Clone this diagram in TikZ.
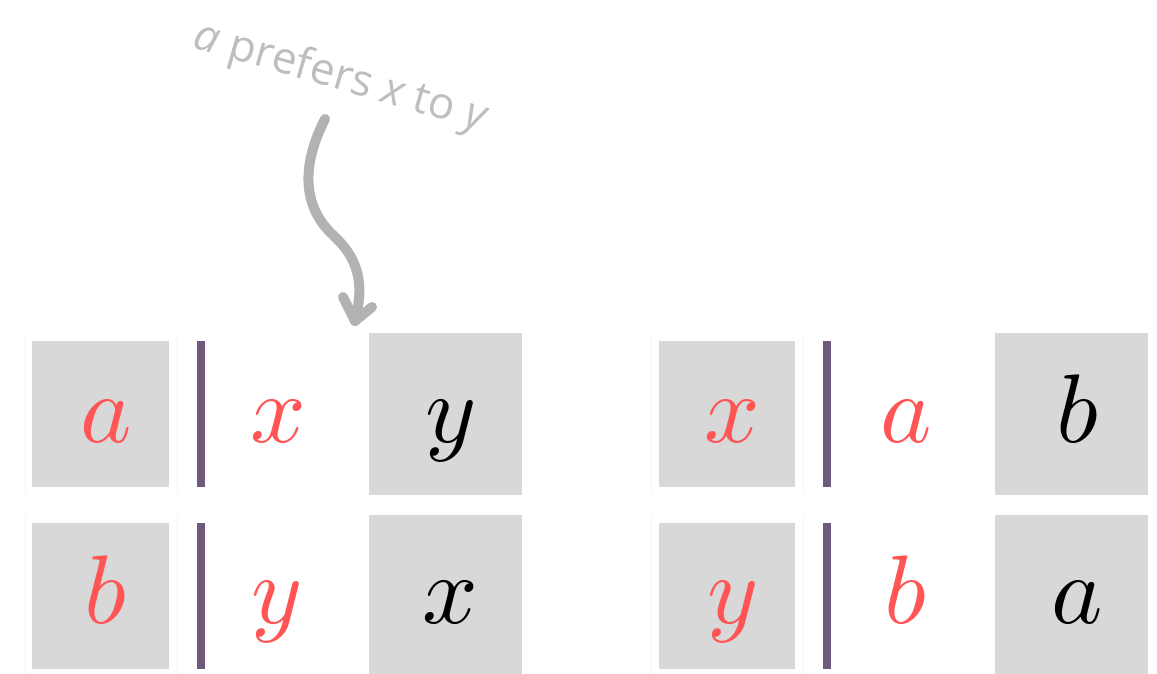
\documentclass[tikz,border=0pt]{standalone}
\usepackage{fontspec}
\newfontfamily\notefont{Open Sans}
\usetikzlibrary{calc}
\definecolor{cellgray}{RGB}{216,216,216}
\definecolor{pickred}{RGB}{255,85,85}
\definecolor{barpurple}{RGB}{110,90,125}
\definecolor{notegray}{RGB}{190,190,190}
\definecolor{arrowgray}{RGB}{178,178,178}
\definecolor{faintline}{RGB}{244,244,244}
\tikzset{
  cell/.style={fill=cellgray, draw=none, inner sep=0pt, outer sep=0pt},
  bar/.style={fill=barpurple, draw=none, inner sep=0pt, outer sep=0pt},
  letter/.style={anchor=base, inner sep=0pt, scale=9.75},
  red letter/.style={letter, text=pickred},
  black letter/.style={letter, text=black},
  faint/.style={draw=faintline, line width=1pt},
  note/.style={text=notegray, font=\notefont\fontsize{44}{48}\selectfont, inner sep=0pt},
  hand arrow/.style={draw=arrowgray, line width=10pt, line cap=round, line join=round},
}
\begin{document}
\begin{tikzpicture}[x=1pt, y=-1pt]
\useasboundingbox (0,0) rectangle (1157,674);

% faint cell guides
\draw[faint] (25,333) -- (25,493);
\draw[faint] (177,333) -- (177,493);
\draw[faint] (25,515) -- (25,674);
\draw[faint] (177,515) -- (177,674);
\draw[faint] (651,333) -- (651,493);
\draw[faint] (803,333) -- (803,493);
\draw[faint] (651,515) -- (651,674);
\draw[faint] (803,515) -- (803,674);

% left table, top row
\path[cell] (32,341) rectangle (169,487) node[midway] (la1) {};
\path[bar] (197,341) rectangle (205,487) node[midway] (lb1) {};
\path[cell] (369,333) rectangle (522,495) node[midway] (lc1) {};
\node[red letter] (ta1) at (106,442) {$a$};
\node[red letter] (tx1) at (278,442) {$x$};
\node[black letter] (ty1) at (451,442) {$y$};

% left table, bottom row
\path[cell] (32,523) rectangle (169,669) node[midway] (la2) {};
\path[bar] (197,523) rectangle (205,669) node[midway] (lb2) {};
\path[cell] (369,515) rectangle (522,677) node[midway] (lc2) {};
\node[red letter] (tb2) at (105,623) {$b$};
\node[red letter] (ty2) at (277,623) {$y$};
\node[black letter] (tx2) at (450,623) {$x$};

% right table, top row
\path[cell] (659,341) rectangle (795,487) node[midway] (ra1) {};
\path[bar] (823,341) rectangle (831,487) node[midway] (rb1) {};
\path[cell] (995,333) rectangle (1148,495) node[midway] (rc1) {};
\node[red letter] (sx1) at (732,442) {$x$};
\node[red letter] (sa1) at (906,442) {$a$};
\node[black letter] (sb1) at (1077,442) {$b$};

% right table, bottom row
\path[cell] (659,523) rectangle (795,669) node[midway] (ra2) {};
\path[bar] (823,523) rectangle (831,669) node[midway] (rb2) {};
\path[cell] (995,515) rectangle (1148,677) node[midway] (rc2) {};
\node[red letter] (sy2) at (733,623) {$y$};
\node[red letter] (sb2) at (905,623) {$b$};
\node[black letter] (sa2) at (1077,623) {$a$};

% annotation with hand-drawn arrow
\node[note, rotate=-16] (note) at (340,78) {\itshape a\upshape{} prefers \itshape x\upshape{} to \itshape y};
\coordinate (start) at (325,119);
\coordinate (tip) at (355,321);
\path[hand arrow] (start) .. controls (303,162) and (300,205) .. (334,236)
  .. controls (364,264) and (362,292) .. (tip);
\path[hand arrow] ($(tip)+(-12,-24)$) -- (tip) -- ($(tip)+(17,-14)$);
\end{tikzpicture}
\end{document}
